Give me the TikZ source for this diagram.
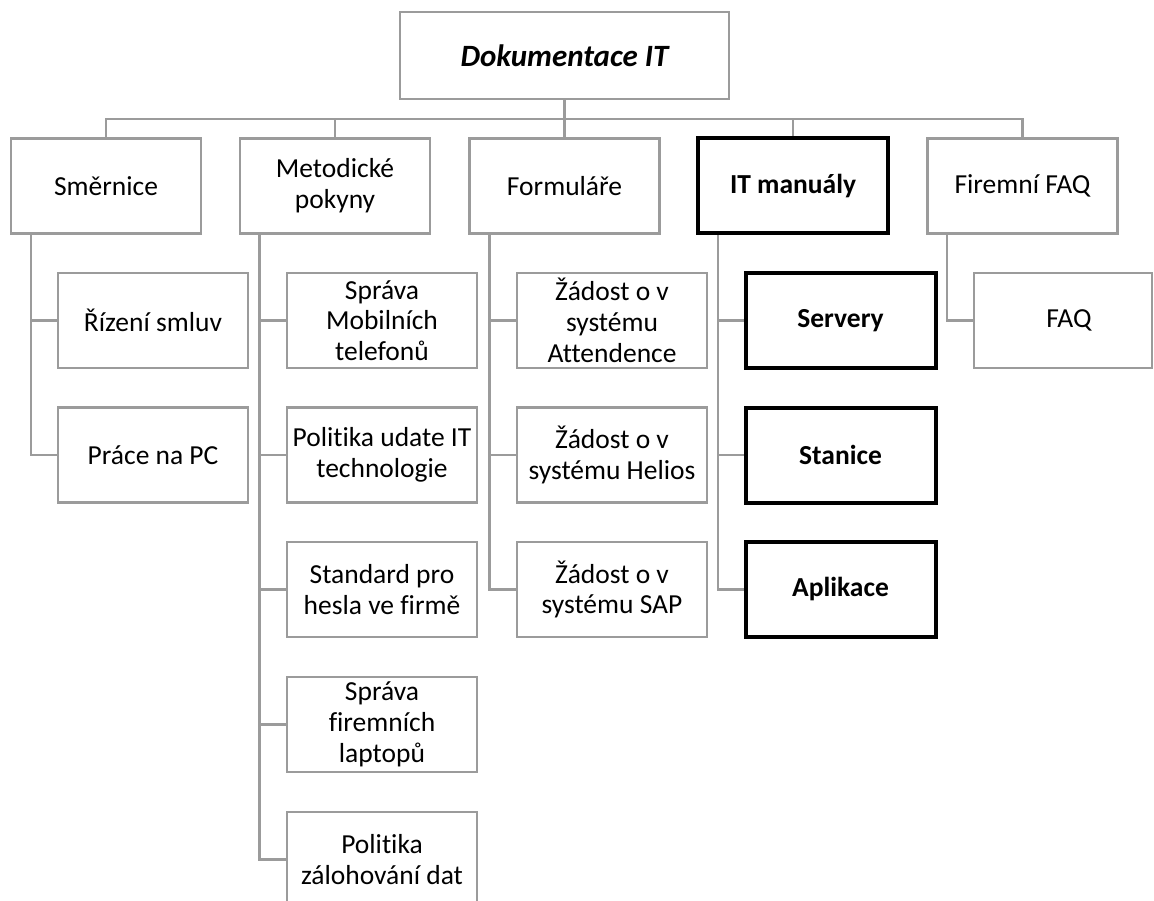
\documentclass[tikz,border=0pt]{standalone}
\usepackage{fontspec}
\setmainfont{Carlito}[Ligatures=NoCommon]
\usetikzlibrary{calc,backgrounds}
\definecolor{linegray}{RGB}{155,155,155}
\tikzset{
  box/.style={rectangle, draw=linegray, line width=2.9pt, fill=white,
    minimum width=190pt, minimum height=95pt, inner sep=0pt, outer sep=0pt,
    align=center, text=black, font=\fontsize{27.5}{30.7}\selectfont},
  keybox/.style={box, draw=black, line width=4pt,
    font=\fontsize{27.5}{30.7}\selectfont\bfseries},
  topbox/.style={box, minimum width=329pt, minimum height=87pt,
    font=\fontsize{31}{36}\selectfont\bfseries\itshape},
  link/.style={draw=linegray, line width=2.9pt},
}
\begin{document}
\begin{tikzpicture}[x=1pt,y=-1pt]
\clip (0,0) rectangle (1154,901);

% root
\node[topbox] (root) at (564.5,55.5) {Dokumentace IT};

% first level
\node[box]    (sm)   at (106,186)   {Směrnice};
\node[box]    (met)  at (335,186)   {Metodické\\pokyny};
\node[box]    (form) at (564.5,186) {Formuláře};
\node[keybox] (itm)  at (793,186)   {IT manuály};
\node[box]    (ffaq) at (1022.5,186){Firemní FAQ};

% Směrnice
\node[box] (sm1) at (153,320.5) {Řízení smluv};
\node[box] (sm2) at (153,455)   {Práce na PC};

% Metodické pokyny
\node[box] (met1) at (382,320.5) {Správa\\Mobilních\\telefonů};
\node[box] (met2) at (382,455)   {Politika udate IT\\technologie};
\node[box] (met3) at (382,589.5) {Standard pro\\hesla ve firmě};
\node[box] (met4) at (382,724.5) {Správa\\firemních\\laptopů};
\node[box] (met5) at (382,859.5) {Politika\\zálohování dat};

% Formuláře
\node[box] (form1) at (612,320.5) {Žádost o v\\systému\\Attendence};
\node[box] (form2) at (612,455)   {Žádost o v\\systému Helios};
\node[box] (form3) at (612,589.5) {Žádost o v\\systému SAP};

% IT manuály
\node[keybox] (itm1) at (840.5,320.5) {Servery};
\node[keybox] (itm2) at (840.5,455)   {Stanice};
\node[keybox] (itm3) at (840.5,589.5) {Aplikace};

% Firemní FAQ
\node[box, minimum width=178pt] (faq1) at (1063,320.5) {\hspace*{12pt}FAQ};

% connectors
\begin{scope}[on background layer]
  \coordinate (bus) at (564.5,119);
  \draw[link] (root.south) -- (form.north);
  \draw[link] (sm.north) -- (sm.north |- bus) -- (ffaq.north |- bus) -- (ffaq.north);
  \draw[link] (met.north) -- (met.north |- bus);
  \draw[link] (itm.north) -- (itm.north |- bus);

  \coordinate (smT)   at ([xshift=20pt]sm.south west);
  \coordinate (metT)  at ([xshift=19.5pt]met.south west);
  \coordinate (formT) at ([xshift=20pt]form.south west);
  \coordinate (itmT)  at ([xshift=20pt]itm.south west);
  \coordinate (ffaqT) at ([xshift=19.5pt]ffaq.south west);

  \foreach \c in {sm1,sm2} \draw[link] (smT) |- (\c.west);
  \foreach \c in {met1,met2,met3,met4,met5} \draw[link] (metT) |- (\c.west);
  \foreach \c in {form1,form2,form3} \draw[link] (formT) |- (\c.west);
  \foreach \c in {itm1,itm2,itm3} \draw[link] (itmT) |- (\c.west);
  \draw[link] (ffaqT) |- (faq1.west);
\end{scope}
\end{tikzpicture}
\end{document}
